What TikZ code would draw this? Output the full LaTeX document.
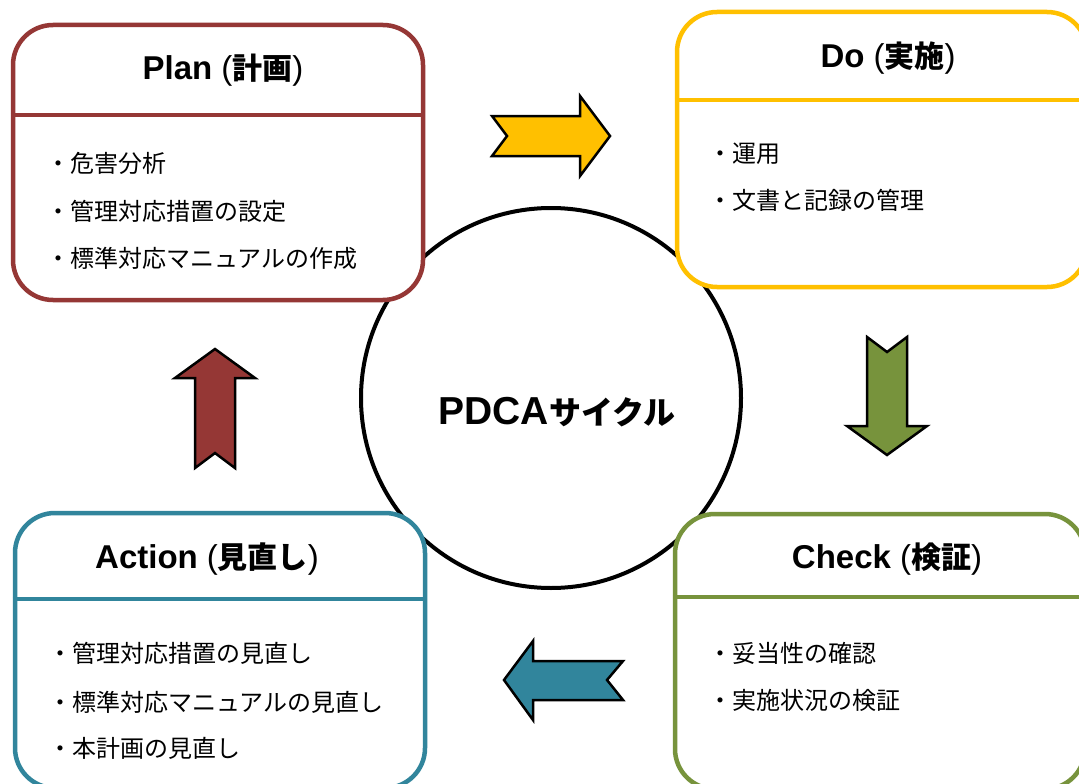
\documentclass[tikz,border=0pt]{standalone}
\usepackage{fontspec}
\setmainfont{Liberation Sans}
\newfontfamily\cjk{Noto Sans CJK JP}
\definecolor{planc}{HTML}{953735}
\definecolor{doc}{HTML}{FFC000}
\definecolor{checkc}{HTML}{77933C}
\definecolor{actc}{HTML}{31859C}
\newcommand\mytitle[2]{{\fontsize{33}{36}\selectfont\bfseries #1}\hspace{9pt}{\fontsize{33}{36}\selectfont(}{\cjk\bfseries\fontsize{30}{36}\selectfont #2}{\fontsize{33}{36}\selectfont)}}
\tikzset{
  pbox/.style={draw=#1, line width=4.5pt, rounded corners=40pt, fill=white, minimum width=410pt, minimum height=275pt, inner sep=0pt},
  divider/.style={draw=#1, line width=4.5pt},
  titletext/.style={anchor=base, inner sep=0pt},
  bodytext/.style={anchor=base west, inner sep=0pt, font=\cjk\fontsize{24}{28}\selectfont},
  bigarrow/.style={draw=black, line width=2.5pt, fill=#1, line join=miter},
}
\begin{document}
\begin{tikzpicture}[x=1pt,y=-1pt]
\useasboundingbox (0,0) rectangle (1079,784);
\clip (0,0) rectangle (1079,784);
\fill[white] (0,0) rectangle (1079,784);

% centre circle
\node[draw, circle, line width=4pt, minimum size=380pt, fill=white, inner sep=0pt] (cyc) at (551,398) {};
\node[titletext] (cyct) at (557,424) {{\fontsize{39}{42}\selectfont\bfseries PDCA}{\cjk\bfseries\fontsize{32}{42}\selectfont サイクル}};

% Plan
\node[pbox=planc] (plan) at (218,162.5) {};
\draw[divider=planc] (plan.west |- 0,115) -- (plan.east |- 0,115);
\node[titletext] (plant) at (223,80) {\mytitle{Plan}{計画}};
\node[bodytext] (p1) at (46,172) {・危害分析};
\node[bodytext] (p2) at (46,220) {・管理対応措置の設定};
\node[bodytext] (p3) at (46,267) {・標準対応マニュアルの作成};

% Do
\node[pbox=doc] (do) at (882,149.5) {};
\draw[divider=doc] (do.west |- 0,100) -- (do.east |- 0,100);
\node[titletext] (dot) at (888,68) {\mytitle{Do}{実施}};
\node[bodytext] (d1) at (708,162) {・運用};
\node[bodytext] (d2) at (708,209) {・文書と記録の管理};

% Check
\node[pbox=checkc] (chk) at (880,651.5) {};
\draw[divider=checkc] (chk.west |- 0,597) -- (chk.east |- 0,597);
\node[titletext] (chkt) at (887,568) {\mytitle{Check}{検証}};
\node[bodytext] (c1) at (708,662) {・妥当性の確認};
\node[bodytext] (c2) at (708,709) {・実施状況の検証};

% Action
\node[pbox=actc] (act) at (220,650.5) {};
\draw[divider=actc] (act.west |- 0,599) -- (act.east |- 0,599);
\node[titletext] (actt) at (207,568) {\mytitle{Action}{見直し}};
\node[bodytext] (a1) at (48,662) {・管理対応措置の見直し};
\node[bodytext] (a2) at (48,711) {・標準対応マニュアルの見直し};
\node[bodytext] (a3) at (48,757) {・本計画の見直し};

% block arrows
\draw[bigarrow=doc] (492,116) -- (580,116) -- (580,96) -- (610,136) -- (580,176) -- (580,156) -- (492,156) -- (507,136) -- cycle;
\draw[bigarrow=checkc] (867,337) -- (887,352) -- (907,337) -- (907,426) -- (927,426) -- (887,455) -- (847,426) -- (867,426) -- cycle;
\draw[bigarrow=actc] (504,680) -- (533,641) -- (533,661) -- (623,661) -- (607,680) -- (623,700) -- (533,700) -- (533,720) -- cycle;
\draw[bigarrow=planc] (215,349) -- (255,378) -- (235,378) -- (235,468) -- (215,453) -- (195,468) -- (195,378) -- (175,378) -- cycle;
\end{tikzpicture}
\end{document}
